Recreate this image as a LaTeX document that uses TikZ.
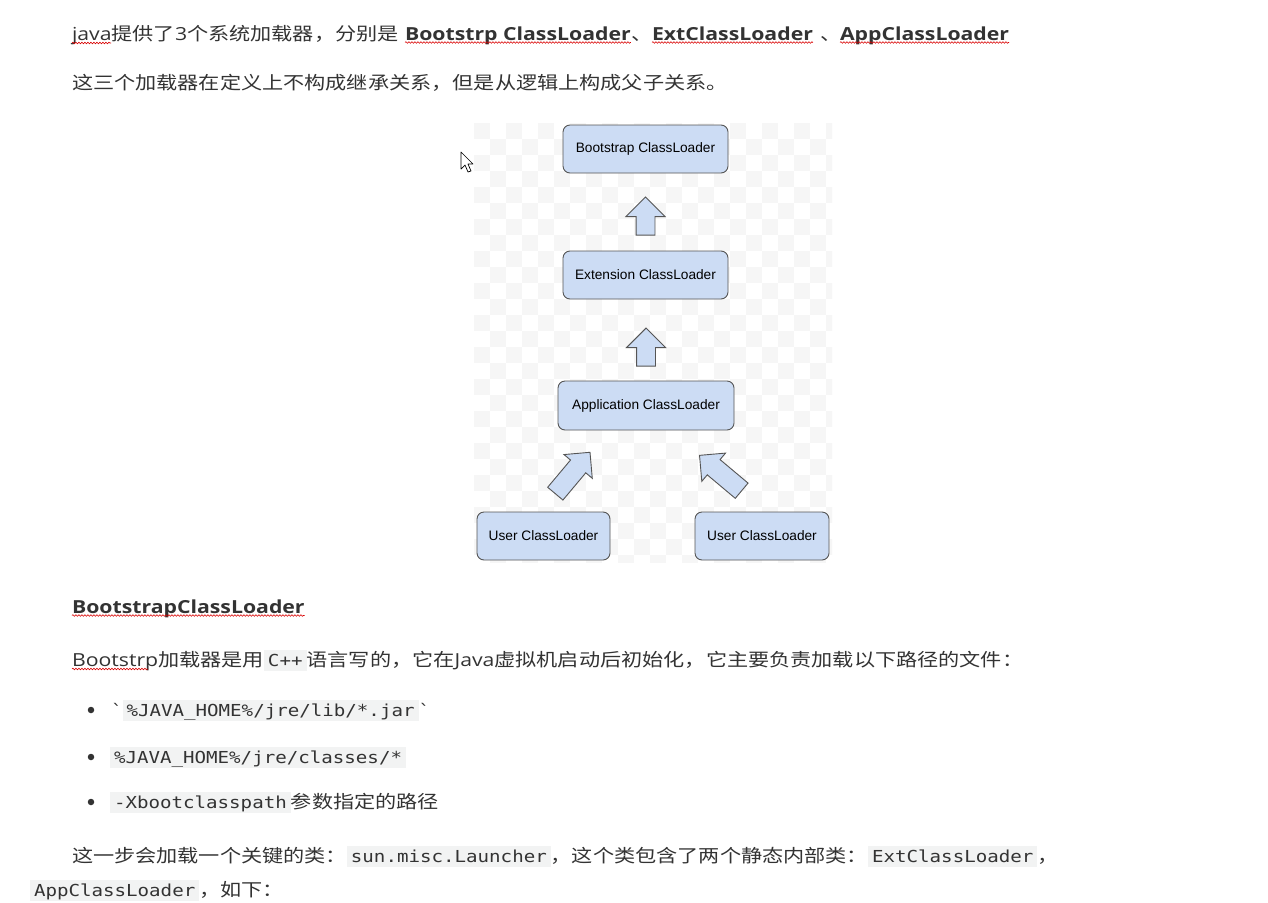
\documentclass[tikz,border=0pt]{standalone}
\usepackage{fontspec}
\usetikzlibrary{shapes.arrows,decorations.pathmorphing,calc}
\setmainfont{Open Sans}[FakeStretch=1.18]
\newfontfamily\cjk{Noto Sans CJK SC}[FakeStretch=1.175]
\newfontfamily\mono{DejaVu Sans Mono}[FakeStretch=1.16]
\newfontfamily\arial{Liberation Sans}
\definecolor{txt}{HTML}{333333}
\definecolor{codebg}{HTML}{F2F3F3}
\definecolor{boxfill}{HTML}{CCDCF4}
\definecolor{boxdraw}{HTML}{555555}
\definecolor{checker}{HTML}{F6F6F6}
\newcommand{\fs}{\fontsize{18}{20}\selectfont}
\newcommand{\cd}[1]{{\setlength{\fboxsep}{0pt}\colorbox{codebg}{\hspace{4pt}\rule[-5pt]{0pt}{21pt}{\mono\fontsize{16.5}{20}\selectfont #1}\hspace{4pt}}}}
\tikzset{
  txtnode/.style={anchor=base west, inner sep=0pt, outer sep=0pt, text=txt, font=\fs},
  loader/.style={draw=boxdraw, fill=boxfill, rounded corners=7pt, line width=0.9pt, font=\arial\fontsize{13.7}{16}\selectfont, text=black, inner sep=0pt},
  blockarrow/.style={single arrow, draw=boxdraw, fill=boxfill, line width=0.9pt, inner xsep=0pt, inner ysep=9pt, single arrow head extend=10pt, single arrow tip angle=90, minimum height=#1, anchor=tail},
  squiggle/.style={draw=red!85!black, line width=0.6pt, decorate, decoration={snake, amplitude=0.8pt, segment length=3pt}},
  bulletdot/.style={circle, fill=txt, inner sep=0pt, minimum size=6.5pt},
}
\begin{document}
\begin{tikzpicture}[x=1pt, y=-1pt]
\useasboundingbox (0,0) rectangle (1268,902);
\fill[white] (0,0) rectangle (1268,902);

% checkerboard background of the picture
\begin{scope}
\clip (474,123) rectangle (832,562);
\foreach \i in {0,...,22} {
  \foreach \j in {0,...,28} {
    \pgfmathtruncatemacro{\pp}{mod(\i+\j,2)}
    \ifnum\pp=0
      \fill[checker] (474+\i*16,123+\j*16) rectangle ++(16,16);
    \fi
  }
}
\end{scope}

% line 1
\node[txtnode] (l1) at (72,40) {java{\cjk 提供了}3{\cjk 个系统加载器，分别是}};
\node[txtnode, font=\fs\bfseries] (b1) at (405,40) {Bootstrp ClassLoader};
\node[txtnode] (s1) at (631,40) {\cjk 、};
\node[txtnode, font=\fs\bfseries] (b2) at (652,40) {ExtClassLoader};
\node[txtnode] (s2) at (820,40) {\cjk 、};
\node[txtnode, font=\fs\bfseries] (b3) at (840,40) {AppClassLoader};
\coordinate (j0) at (72,43);
\coordinate (j1) at (111,43);
\draw[squiggle] (j0) -- (j1);
\draw[squiggle] ([yshift=-2.5pt]b1.base west) -- ([yshift=-2.5pt]b1.base east);
\draw[squiggle] ([yshift=-2.5pt]b2.base west) -- ([yshift=-2.5pt]b2.base east);
\draw[squiggle] ([yshift=-2.5pt]b3.base west) -- ([yshift=-2.5pt]b3.base east);

% line 2
\node[txtnode] (l2) at (72,89) {\cjk 这三个加载器在定义上不构成继承关系，但是从逻辑上构成父子关系。};

% diagram
\node[loader, minimum width=165pt, minimum height=48pt] (boot) at (645.5,149) {Bootstrap ClassLoader};
\node[loader, minimum width=165pt, minimum height=48pt] (ext) at (645.5,275) {Extension ClassLoader};
\node[loader, minimum width=176pt, minimum height=49pt] (app) at (646,405.5) {Application ClassLoader};
\node[loader, minimum width=133pt, minimum height=48pt] (u1) at (543.5,536) {User ClassLoader};
\node[loader, minimum width=134pt, minimum height=48pt] (u2) at (762,536) {User ClassLoader};

\node[blockarrow=38pt, rotate=90] (a1) at ([yshift=15pt]ext.north) {};
\node[blockarrow=38pt, rotate=90] (a2) at ([yshift=14pt]app.north) {};
\node[blockarrow=54pt, rotate=50, inner ysep=9.5pt, single arrow head extend=8.5pt] (a3) at (555,494) {};
\node[blockarrow=55pt, rotate=140, inner ysep=9.5pt, single arrow head extend=8.5pt] (a4) at (742,491) {};

% mouse cursor
\draw[fill=white, line width=0.7pt, line join=round] (461,152) -- (461,169) -- (465,165) -- (468,172) -- (471,171) -- (468,164) -- (473,164) -- cycle;

% heading
\node[txtnode, font=\fs\bfseries] (h) at (72,613) {BootstrapClassLoader};
\draw[squiggle] ([yshift=-2.5pt]h.base west) -- ([yshift=-2.5pt]h.base east);

% paragraph
\node[txtnode] (p1) at (72,666) {Bootstrp{\cjk 加载器是用}\cd{C++}{\cjk 语言写的，它在}Java{\cjk 虚拟机启动后初始化，它主要负责加载以下路径的文件：}};
\coordinate (k0) at (72,669);
\coordinate (k1) at (148,669);
\draw[squiggle] (k0) -- (k1);

% bullets
\node[bulletdot] (d1) at (91,710) {};
\node[bulletdot] (d2) at (91,757) {};
\node[bulletdot] (d3) at (91,802) {};
\node[txtnode] (i1) at (111,716) {{\mono\fontsize{16.5}{20}\selectfont`}\cd{\%JAVA\_HOME\%/jre/lib/*.jar}{\mono\fontsize{16.5}{20}\selectfont`}};
\node[txtnode] (i2) at (110,763) {\cd{\%JAVA\_HOME\%/jre/classes/*}};
\node[txtnode] (i3) at (110,808) {\cd{-Xbootclasspath}{\cjk 参数指定的路径}};

% last paragraph
\node[txtnode] (q1) at (72,862) {{\cjk 这一步会加载一个关键的类：}\cd{sun.misc.Launcher}{\cjk ，这个类包含了两个静态内部类：}\cd{ExtClassLoader}{\cjk ，}};
\node[txtnode] (q2) at (30,896) {\cd{AppClassLoader}{\cjk ，如下：}};
\end{tikzpicture}
\end{document}
